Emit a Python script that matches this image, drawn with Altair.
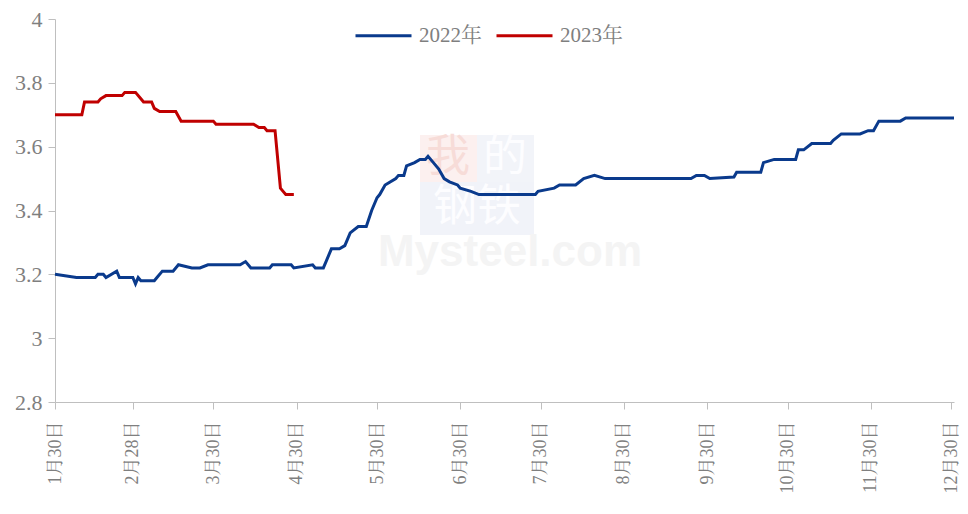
import altair as alt
import pandas as pd

# 2022 series (month-day, value)
dates_2022 = ["01-30", "02-07", "02-14", "02-15", "02-17", "02-18", "02-22", "02-23", "02-28",
              "03-01", "03-02", "03-03", "03-08", "03-09", "03-11", "03-15", "03-17", "03-22",
              "03-25", "03-28", "04-09", "04-11", "04-13", "04-20", "04-21", "04-28", "04-29",
              "05-06", "05-07", "05-10", "05-11", "05-13", "05-16", "05-18", "05-20", "05-23",
              "05-26", "05-28", "05-30", "05-31", "06-02", "06-06", "06-07", "06-09", "06-10",
              "06-13", "06-15", "06-17", "06-18", "06-20", "06-22", "06-24", "06-26", "06-29",
              "06-30", "07-04", "07-07", "07-28", "07-29", "08-04", "08-06", "08-12", "08-15",
              "08-19", "08-23", "09-24", "09-26", "09-29", "10-01", "10-10", "10-11", "10-20",
              "10-21", "10-25", "11-02", "11-03", "11-05", "11-08", "11-15", "11-16", "11-19",
              "11-26", "11-29", "12-01", "12-03", "12-11", "12-13", "12-31"]
values_2022 = [3.20, 3.19, 3.19, 3.20, 3.20, 3.19, 3.21, 3.19, 3.19,
               3.17, 3.19, 3.18, 3.18, 3.19, 3.21, 3.21, 3.23, 3.22,
               3.22, 3.23, 3.23, 3.24, 3.22, 3.22, 3.23, 3.23, 3.22,
               3.23, 3.22, 3.22, 3.24, 3.28, 3.28, 3.29, 3.33, 3.35,
               3.35, 3.40, 3.44, 3.45, 3.48, 3.50, 3.51, 3.51, 3.54,
               3.55, 3.56, 3.56, 3.57, 3.55, 3.53, 3.50, 3.49, 3.48,
               3.47, 3.46, 3.45, 3.45, 3.46, 3.47, 3.48, 3.48, 3.50,
               3.51, 3.50, 3.50, 3.51, 3.51, 3.50, 3.505, 3.52, 3.52,
               3.55, 3.56, 3.56, 3.59, 3.59, 3.61, 3.61, 3.62, 3.64,
               3.64, 3.65, 3.65, 3.68, 3.68, 3.69, 3.69]

# 2023 series
dates_2023 = ["01-30", "02-09", "02-10", "02-15", "02-16", "02-18", "02-24", "02-25", "03-01",
              "03-03", "03-04", "03-07", "03-08", "03-10", "03-16", "03-18", "03-30", "03-31",
              "04-14", "04-16", "04-18", "04-19", "04-22", "04-24", "04-25", "04-26", "04-29"]
values_2023 = [3.70, 3.70, 3.74, 3.74, 3.75, 3.76, 3.76, 3.77, 3.77,
               3.75, 3.74, 3.74, 3.72, 3.71, 3.71, 3.68, 3.68, 3.67,
               3.67, 3.66, 3.66, 3.65, 3.65, 3.47, 3.46, 3.45, 3.45]

series_names = ["2022年", "2023年"]
series_colors = ["#0a3a8c", "#c00000"]
tick_dates = ["01-30", "02-28", "03-30", "04-30", "05-30", "06-30",
              "07-30", "08-30", "09-30", "10-30", "11-30", "12-30"]
y_ticks = [2.8, 3.0, 3.2, 3.4, 3.6, 3.8, 4.0]

BASE_YEAR = 2022
rows = []
for d, v in zip(dates_2022, values_2022):
    rows.append({"date": f"{BASE_YEAR}-{d}", "value": v, "series": series_names[0]})
for d, v in zip(dates_2023, values_2023):
    rows.append({"date": f"{BASE_YEAR}-{d}", "value": v, "series": series_names[1]})
df = pd.DataFrame(rows)

tick_vals = [alt.DateTime(year=BASE_YEAR, month=int(t[:2]), date=int(t[3:]), utc=True) for t in tick_dates]

FONT = "'Liberation Serif', 'Noto Serif CJK SC', serif"
GRAY = "#7f7f7f"
AXIS_GRAY = "#bfbfbf"

lines = alt.Chart(df).mark_line(strokeWidth=3, interpolate="linear").encode(
    x=alt.X("date:T",
            scale=alt.Scale(type="utc",
                            domain=[alt.DateTime(year=BASE_YEAR, month=1, date=30, utc=True),
                                    alt.DateTime(year=BASE_YEAR, month=12, date=31, utc=True)]),
            axis=alt.Axis(values=tick_vals, title=None, grid=False, labelAngle=270,
                          labelExpr="(utcmonth(datum.value)+1) + '月' + utcdate(datum.value) + '日'",
                          labelFont=FONT, labelFontSize=18, labelColor=GRAY, labelPadding=12,
                          domainColor=AXIS_GRAY, tickColor=AXIS_GRAY, tickSize=7,
                          labelOverlap=False, labelFlush=False)),
    y=alt.Y("value:Q",
            scale=alt.Scale(domain=[2.8, 4.0], nice=False, zero=False),
            axis=alt.Axis(values=y_ticks, format="~g", title=None, grid=False,
                          labelFont=FONT, labelFontSize=22, labelColor=GRAY, labelPadding=6,
                          domainColor=AXIS_GRAY, tickColor=AXIS_GRAY, tickSize=7)),
    color=alt.Color("series:N",
                    scale=alt.Scale(domain=series_names, range=series_colors),
                    legend=alt.Legend(title=None, orient="none", direction="horizontal",
                                      legendX=299, legendY=-13, symbolType="stroke",
                                      symbolSize=3136, symbolStrokeWidth=3,
                                      labelFont=FONT, labelFontSize=21, labelColor=GRAY,
                                      columnPadding=8, padding=0, labelOffset=6)),
    detail="series:N",
)

wm_data = alt.Data(values=[{"k": 1}])
CJK = "Noto Sans CJK SC"
blk1 = alt.Chart(wm_data).mark_rect(color="#fcf0ef").encode(
    x=alt.value(365), x2=alt.value(422), y=alt.value(116), y2=alt.value(163))
blk2 = alt.Chart(wm_data).mark_rect(color="#f2f4f9").encode(
    x=alt.value(422), x2=alt.value(479), y=alt.value(116), y2=alt.value(163))
blk3 = alt.Chart(wm_data).mark_rect(color="#f1f3f9").encode(
    x=alt.value(365), x2=alt.value(479), y=alt.value(163), y2=alt.value(216))
wm_a = alt.Chart(wm_data).mark_text(text="我", font=CJK, fontSize=44,
                                    color="#f7dcd8").encode(x=alt.value(393), y=alt.value(139))
wm_b = alt.Chart(wm_data).mark_text(text="的", font=CJK, fontSize=44,
                                    color="#fdfdff").encode(x=alt.value(450), y=alt.value(139))
wm_c = alt.Chart(wm_data).mark_text(text="钢铁", font=CJK, fontSize=44,
                                    color="#fdfdff").encode(x=alt.value(422), y=alt.value(189))
wm_m = alt.Chart(wm_data).mark_text(text="Mysteel.com", font="Liberation Sans",
                                    fontSize=44, fontWeight="bold", color="#f4f4f4").encode(
    x=alt.value(455), y=alt.value(234))

chart = alt.layer(blk1, blk2, blk3, wm_a, wm_b, wm_c, wm_m, lines).properties(
    width=899, height=383,
    autosize=alt.AutoSizeParams(type="none"),
    padding={"left": 47, "top": 11, "right": 6, "bottom": 100},
).configure_view(stroke=None)

chart.save("out.html", embed_options={"renderer": "svg", "actions": False})
